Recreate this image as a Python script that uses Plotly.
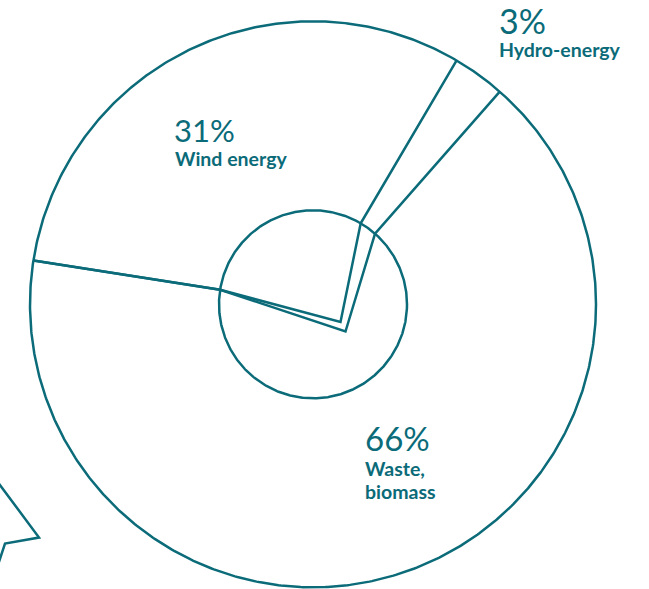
import numpy as np
import plotly.graph_objects as go

# ---- data ----
categories = ["Wind energy", "Hydro-energy", "Waste, biomass"]
shares = [31, 3, 66]           # percent
pct_labels = ["31%", "3%", "66%"]
name_lines = [["Wind energy"], ["Hydro-energy"], ["Waste,", "biomass"]]
start_angle_deg = 171.1         # where the first slice starts (math angle, clockwise slices)

# ---- geometry / style (pixel space) ----
W, H = 649, 589
CX, CY = 313.0, 304.3
R_OUT, R_IN = 283.0, 94.0
V_WIND = (340.5, 322.0)   # off-centre apex of wind wedge
V_WASTE = (345.5, 331.5)  # off-centre apex of waste wedge
COLOR = "#0b6b79"
LW = 2.5
FONT = "Lato"

def pt(r, ang):
    a = np.deg2rad(ang)
    return CX + r * np.cos(a), CY - r * np.sin(a)

cum = np.cumsum([0] + shares)
bounds = [start_angle_deg - 360.0 * c / 100.0 for c in cum]  # b0, b1, b2, b3
b0, b1, b2 = bounds[0], bounds[1], bounds[2]

fig = go.Figure()

# circles
t = np.linspace(0, 360, 721)
for r in (R_OUT, R_IN):
    xs, ys = zip(*[pt(r, a) for a in t])
    fig.add_trace(go.Scatter(x=xs, y=ys, mode="lines",
                             line=dict(color=COLOR, width=LW), hoverinfo="skip"))

# wedge boundaries
def wedge_line(a_start, apex, a_end):
    p = [pt(R_OUT, a_start), pt(R_IN, a_start), apex, pt(R_IN, a_end), pt(R_OUT, a_end)]
    xs, ys = zip(*p)
    return go.Scatter(x=xs, y=ys, mode="lines",
                      line=dict(color=COLOR, width=LW, shape="linear"), hoverinfo="skip")

fig.add_trace(wedge_line(b0, V_WIND, b1))
fig.add_trace(wedge_line(b0, V_WASTE, b2))

# decorative fragment at bottom-left
fig.add_trace(go.Scatter(x=[-6, 39, 5, -3], y=[477, 537.5, 543.5, 568],
                         mode="lines", line=dict(color=COLOR, width=LW), hoverinfo="skip"))

# labels
label_pos = [(172, 151, 173), (497, 43, 497), (363, 459.5, 363)]  # x pct, y pct bottom, x names
pct_size = [31, 34, 33]
name_base = [[171.5], [63], [482, 505]]
for i in range(3):
    xp, yp, xn = label_pos[i]
    fig.add_annotation(x=xp, y=yp, text=pct_labels[i], showarrow=False,
                       xanchor="left", yanchor="bottom",
                       font=dict(family=FONT, size=pct_size[i], color=COLOR, weight=400))
    for line, yb in zip(name_lines[i], name_base[i]):
        fig.add_annotation(x=xn, y=yb, text=line, showarrow=False,
                           xanchor="left", yanchor="bottom",
                           font=dict(family=FONT, size=19.5, color=COLOR, weight=700))

fig.update_layout(
    width=W, height=H, autosize=False,
    margin=dict(l=0, r=0, t=0, b=0),
    paper_bgcolor="white", plot_bgcolor="white",
    showlegend=False,
    xaxis=dict(range=[0, W], visible=False, fixedrange=True),
    yaxis=dict(range=[H, 0], visible=False, fixedrange=True),
)
fig.write_html("out.html", config={"displayModeBar": False},
               post_script="document.body.style.margin='0';document.body.style.overflow='hidden';")
